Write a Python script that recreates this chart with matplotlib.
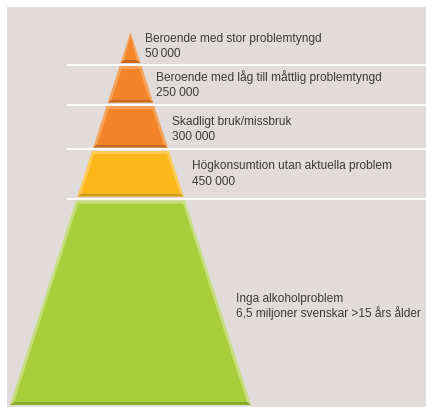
import matplotlib
matplotlib.use("Agg")
import matplotlib.pyplot as plt
from matplotlib.patches import Polygon, Rectangle

# Data: pyramid levels from top to bottom
labels = [
    "Beroende med stor problemtyngd",
    "Beroende med låg till måttlig problemtyngd",
    "Skadligt bruk/missbruk",
    "Högkonsumtion utan aktuella problem",
    "Inga alkoholproblem",
]
counts = ["50\u2009000", "250 000", "300 000", "450 000", "6,5 miljoner svenskar >15 års ålder"]

# colours per level: (light bevel, main, dark bottom)
level_colors = [
    ("#f6a35c", "#f3842a", "#c9681f"),
    ("#f6a35c", "#f3842a", "#c9681f"),
    ("#f6a35c", "#f3842a", "#c9681f"),
    ("#fdca55", "#fbb719", "#d39a17"),
    ("#c4df7c", "#a8ce3b", "#87a92c"),
]

# Layout (pixels, origin top-left)
W, H = 426, 407
apex_x, apex_y = 130.5, 32
base_y, base_hw = 405, 120.5
bands = [(32, 63), (66, 102.5), (106, 147.5), (151, 196.5), (200.5, 405)]
sep_y = [64.5, 104.5, 149.2, 198.5]
text_x = [145, 156, 172, 192, 236]
text_y = [39, 77, 122, 166, 299]
line_gap = [15, 16, 15, 16, 14]
bevel = 3.0


def hw(y):
    return base_hw * (y - apex_y) / (base_y - apex_y)


fig = plt.figure(figsize=(W / 100, H / 100), dpi=100)
ax = fig.add_axes([0, 0, 1, 1])
ax.set_xlim(0, W)
ax.set_ylim(H, 0)
ax.axis("off")

ax.add_patch(Rectangle((7, 7), W - 7, H - 7, facecolor="#e1dcda", edgecolor="none"))

for y in sep_y:
    ax.plot([67, W], [y, y], color="white", lw=1.4, solid_capstyle="butt")

for (y0, y1), (light, main, dark) in zip(bands, level_colors):
    outer = [(apex_x - hw(y0), y0), (apex_x + hw(y0), y0),
             (apex_x + hw(y1), y1), (apex_x - hw(y1), y1)]
    ax.add_patch(Polygon(outer, closed=True, facecolor=light, edgecolor="none"))
    # bottom dark face
    yb = y1 - bevel
    ib = hw(yb) - bevel
    bottom = [(apex_x - ib, yb), (apex_x + ib, yb),
              (apex_x + hw(y1), y1), (apex_x - hw(y1), y1)]
    ax.add_patch(Polygon(bottom, closed=True, facecolor=dark, edgecolor="none"))
    # inner main face
    yt = y0 + bevel
    it = max(hw(yt) - bevel, 0)
    if yt < yb:
        inner = [(apex_x - it, yt), (apex_x + it, yt),
                 (apex_x + ib, yb), (apex_x - ib, yb)]
        ax.add_patch(Polygon(inner, closed=True, facecolor=main, edgecolor="none"))

for lab, cnt, x, y, g in zip(labels, counts, text_x, text_y, line_gap):
    ax.text(x, y, lab, fontsize=8.6, color="#3c3c3c", va="center", ha="left",
            family="Liberation Sans")
    ax.text(x, y + g, cnt, fontsize=8.6, color="#3c3c3c", va="center", ha="left",
            family="Liberation Sans")

fig.savefig("out.png", dpi=100, facecolor="white")
